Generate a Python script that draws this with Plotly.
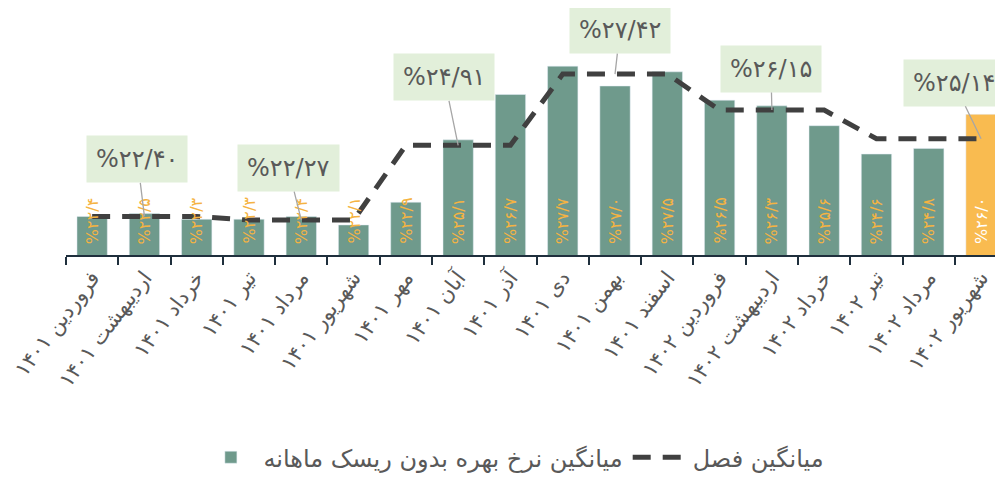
import plotly.graph_objects as go

# months (Persian calendar) 1401 - 1402
months = ["فروردین ۱۴۰۱", "اردیبهشت ۱۴۰۱", "خرداد ۱۴۰۱", "تیر ۱۴۰۱", "مرداد ۱۴۰۱", "شهریور ۱۴۰۱",
          "مهر ۱۴۰۱", "آبان ۱۴۰۱", "آذر ۱۴۰۱", "دی ۱۴۰۱", "بهمن ۱۴۰۱", "اسفند ۱۴۰۱",
          "فروردین ۱۴۰۲", "اردیبهشت ۱۴۰۲", "خرداد ۱۴۰۲", "تیر ۱۴۰۲", "مرداد ۱۴۰۲", "شهریور ۱۴۰۲"]

monthly_rate = [22.4, 22.5, 22.3, 22.3, 22.4, 22.1,
                22.9, 25.1, 26.7, 27.7, 27.0, 27.5,
                26.5, 26.3, 25.6, 24.6, 24.8, 26.0]

season_avg = [22.40, 22.27, 24.91, 27.42, 26.15, 25.14]

# which month each season label points to
season_label_month = [1, 4, 7, 10, 13, 17]

bar_name = "میانگین نرخ بهره بدون ریسک ماهانه"
line_name = "میانگین فصل"

FONT = "DejaVu Sans"
GREEN = "#6f9a8c"
ORANGE = "#f9bb50"
GREY_TXT = "#595959"
Y_MIN, Y_MAX = 21.04, 29.68

fa_digits = str.maketrans("0123456789", "۰۱۲۳۴۵۶۷۸۹")


def fa(s):
    return s.translate(fa_digits)


line_y = [v for v in season_avg for _ in range(3)]
bar_colors = [GREEN] * 17 + [ORANGE]
text_colors = ["#f5b342"] * 17 + ["white"]

fig = go.Figure()

fig.add_trace(go.Bar(
    x=months, y=monthly_rate, name=bar_name,
    marker=dict(color=bar_colors),
))

fig.add_trace(go.Scatter(
    x=months, y=line_y, name=line_name, mode="lines",
    line=dict(color="#404040", width=5, dash="18px,12px"),
))

# value labels inside bars, written upward from the base
for i, v in enumerate(monthly_rate):
    fig.add_annotation(
        x=months[i], y=Y_MIN, yanchor="bottom", yshift=9,
        text="%" + fa(f"{v:.1f}").replace(".", "/"),
        textangle=-90, showarrow=False,
        font=dict(family=FONT, size=16, color=text_colors[i]),
    )

# pixel offsets of the season label boxes
offsets = [(-7, -57), (-13, -52), (-14, -68), (5, -44), (-1, -41), (-27, -56)]
for i, v in enumerate(season_avg):
    m = season_label_month[i]
    fig.add_annotation(
        x=months[m], y=v, text="%" + fa(f"{v:.2f}").replace(".", "/"),
        ax=offsets[i][0], ay=offsets[i][1],
        showarrow=True, arrowhead=0, arrowwidth=1.3, arrowcolor="#a6a6a6",
        bgcolor="#e2efda", borderpad=9,
        font=dict(family=FONT, size=24, color=GREY_TXT),
    )

fig.update_layout(
    width=995, height=473,
    margin=dict(l=58, r=0, t=2, b=223),
    plot_bgcolor="white", paper_bgcolor="white",
    bargap=0.42,
    font=dict(family=FONT, color=GREY_TXT),
    legend=dict(orientation="h", x=0.478, xanchor="center", y=-0.827, yanchor="middle",
                itemwidth=55,
                font=dict(family=FONT, size=24, color=GREY_TXT)),
    showlegend=True,
)
fig.update_xaxes(
    type="category", range=[-0.5, 17.42], automargin=False,
    showline=True, linecolor="#1f2f3d", linewidth=2,
    ticks="outside", tickson="boundaries", ticklen=8, tickcolor="#1f2f3d", tickwidth=2,
    tickangle=-53, tickfont=dict(family=FONT, size=21, color=GREY_TXT),
    showgrid=False,
)
fig.update_yaxes(range=[Y_MIN, Y_MAX], visible=False, showgrid=False, automargin=False)

fig.write_html("out.html")
